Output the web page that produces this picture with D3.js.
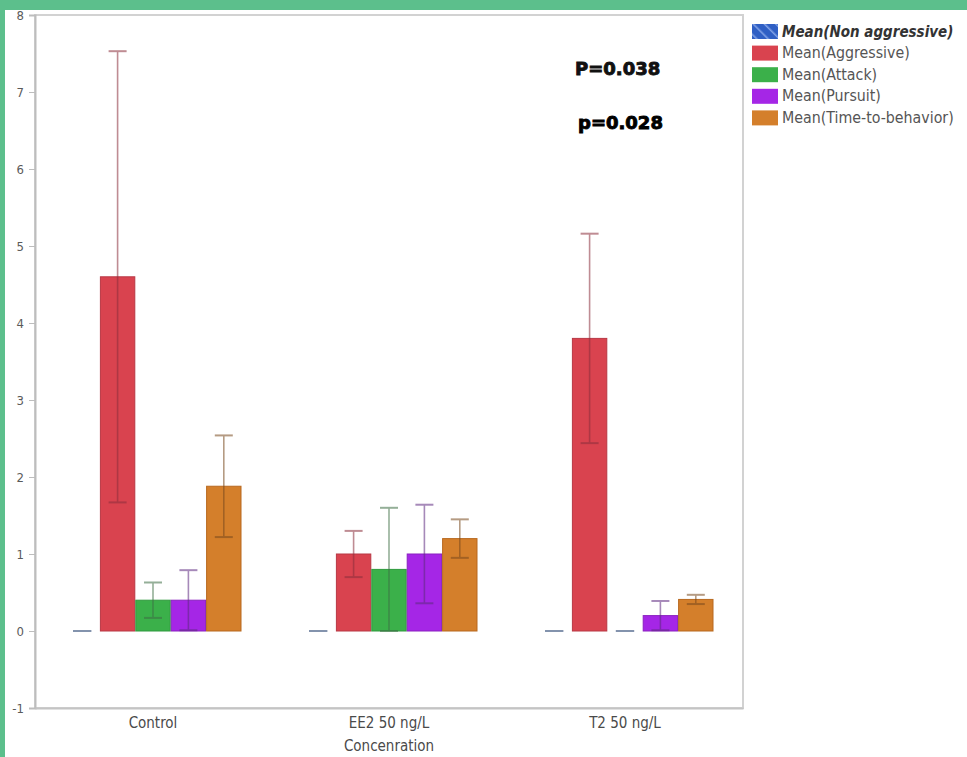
<!DOCTYPE html>
<html>
<head>
<meta charset="utf-8">
<script src="https://cdn.jsdelivr.net/npm/d3@7"></script>
<style>
  html, body { margin: 0; padding: 0; background: #ffffff; }
  svg { display: block; }
</style>
</head>
<body>
<script>
// Categories on the x axis
const categories = ["Control", "EE2 50 ng/L", "T2 50 ng/L"];
// Series names (legend order)
const seriesNames = ["Mean(Non aggressive)", "Mean(Aggressive)", "Mean(Attack)", "Mean(Pursuit)", "Mean(Time-to-behavior)"];
// Mean values per category
const nonAggressive  = [0, 0, 0];
const aggressive     = [4.6, 1.0, 3.8];
const attack         = [0.4, 0.8, 0];
const pursuit        = [0.4, 1.0, 0.2];
const timeToBehavior = [1.88, 1.2, 0.41];
// Error bar half-widths (null = no bar)
const nonAggressiveErr  = [null, null, null];
const aggressiveErr     = [2.93, 0.3, 1.36];
const attackErr         = [0.23, 0.8, null];
const pursuitErr        = [0.39, 0.64, 0.19];
const timeToBehaviorErr = [0.66, 0.25, 0.06];
// Y tick values
const yTicks = [-1, 0, 1, 2, 3, 4, 5, 6, 7, 8];
// Annotations
const pLabels = ["P=0.038", "p=0.028"];
const xTitle = "Concenration";

const seriesValues = [nonAggressive, aggressive, attack, pursuit, timeToBehavior];
const seriesErrors = [nonAggressiveErr, aggressiveErr, attackErr, pursuitErr, timeToBehaviorErr];
const fills   = ["#2f5fc4", "#d9434f", "#3bb04a", "#a526e6", "#d47f2b"];
const strokes = ["#2a4fa0", "#b83844", "#2f9a3e", "#8a20c0", "#b8691f"];
const errCols = ["#555", "#8c2f3c", "#3e6e45", "#5e2a80", "#7a4a1e"];

const W = 967, H = 757;
const plot = { left: 35, right: 743, top: 15, bottom: 708 };
const font = "'DejaVu Sans Condensed', 'DejaVu Sans', sans-serif";

const svg = d3.select("body").append("svg").attr("width", W).attr("height", H);

// Hatch pattern for the first legend swatch
const defs = svg.append("defs");
const pat = defs.append("pattern").attr("id", "hatch").attr("patternUnits", "userSpaceOnUse")
  .attr("width", 8).attr("height", 8).attr("patternTransform", "rotate(-45)");
pat.append("rect").attr("width", 8).attr("height", 8).attr("fill", fills[0]);
pat.append("rect").attr("width", 1.6).attr("height", 8).attr("fill", "#7ea0e6");

const x0 = d3.scaleBand().domain(categories).range([plot.left, plot.right])
  .paddingInner(0.25).paddingOuter(0.125);
const x1 = d3.scaleBand().domain(seriesNames).range([0, x0.bandwidth()]).padding(0);
const y = d3.scaleLinear().domain([-1, 8]).range([plot.bottom, plot.top]);

// Frame
svg.append("rect").attr("x", plot.left).attr("y", plot.top)
  .attr("width", plot.right - plot.left).attr("height", plot.bottom - plot.top)
  .attr("fill", "none").attr("stroke", "#d2d2d2").attr("stroke-width", 2);

// Y axis
const yAxis = svg.append("g").attr("transform", `translate(${plot.left},0)`)
  .call(d3.axisLeft(y).tickValues(yTicks).tickSize(6).tickPadding(5).tickFormat(d => String(d)));
yAxis.select(".domain").attr("stroke", "#bdbdbd").attr("stroke-width", 2);
yAxis.selectAll(".tick line").attr("stroke", "#bdbdbd");
yAxis.selectAll(".tick text").attr("fill", "#5a5a5a").style("font-family", font).style("font-size", "13px");

// X axis labels
const xAxis = svg.append("g").attr("transform", `translate(0,${plot.bottom})`)
  .call(d3.axisBottom(x0).tickSize(0).tickPadding(9));
xAxis.select(".domain").attr("stroke", "#c4c4c4").attr("stroke-width", 2);
xAxis.selectAll(".tick text").attr("fill", "#4a4a4a").style("font-family", font).style("font-size", "15px");

svg.append("text").attr("x", x0("EE2 50 ng/L") + x0.bandwidth() / 2).attr("y", 751)
  .attr("text-anchor", "middle").attr("fill", "#4a4a4a")
  .style("font-family", font).style("font-size", "15px").text(xTitle);

// Bars
const groups = svg.append("g").selectAll("g").data(categories).join("g")
  .attr("transform", d => `translate(${x0(d)},0)`);

seriesNames.forEach((s, si) => {
  categories.forEach((c, ci) => {
    const g = groups.filter(d => d === c);
    const v = seriesValues[si][ci];
    const bx = x1(s), bw = x1.bandwidth();
    if (v === 0) {
      g.append("line").attr("x1", bx + bw * 0.24).attr("x2", bx + bw * 0.76)
        .attr("y1", y(0)).attr("y2", y(0))
        .attr("stroke", "#8393ad").attr("stroke-width", 2);
    } else {
      g.append("rect").attr("x", bx + 0.5).attr("width", bw - 1)
        .attr("y", y(Math.max(0, v))).attr("height", Math.abs(y(v) - y(0)))
        .attr("fill", fills[si]).attr("stroke", strokes[si]).attr("stroke-width", 1);
    }
    const e = seriesErrors[si][ci];
    if (e != null) {
      const cx = bx + bw / 2;
      const lo = v - e, hi = v + e;
      const eg = g.append("g").attr("stroke", errCols[si]).attr("stroke-width", 1.6).attr("opacity", 0.55);
      eg.append("line").attr("x1", cx).attr("x2", cx).attr("y1", y(lo)).attr("y2", y(hi));
      eg.append("line").attr("x1", cx - 9).attr("x2", cx + 9).attr("y1", y(hi)).attr("y2", y(hi)).attr("stroke-width", 2);
      eg.append("line").attr("x1", cx - 9).attr("x2", cx + 9).attr("y1", y(lo)).attr("y2", y(lo)).attr("stroke-width", 2);
    }
  });
});

// P-value annotations
[[575, 75, "#111"], [578, 129, "#000"]].forEach(([px, py, col], i) => {
  svg.append("text").attr("x", px).attr("y", py).text(pLabels[i])
    .attr("fill", col).attr("stroke", col).attr("stroke-width", 0.9)
    .style("font-family", "'DejaVu Sans', sans-serif")
    .style("font-weight", "bold").style("font-size", "18px");
});

// Legend
const legend = svg.append("g").attr("transform", "translate(752,24)");
seriesNames.forEach((s, i) => {
  const row = legend.append("g").attr("transform", `translate(0,${i * 21.6})`);
  row.append("rect").attr("width", 26).attr("height", 15)
    .attr("fill", i === 0 ? "url(#hatch)" : fills[i]);
  row.append("text").attr("x", 30).attr("y", 12.5).text(s)
    .attr("fill", i === 0 ? "#333" : "#555")
    .style("font-family", font).style("font-size", i === 0 ? "15px" : "15.8px")
    .style("font-weight", i === 0 ? "bold" : "normal")
    .style("font-style", i === 0 ? "italic" : "normal");
});

// Green border strips
svg.append("rect").attr("x", 0).attr("y", 0).attr("width", W).attr("height", 10).attr("fill", "#5cbf8c");
svg.append("rect").attr("x", 0).attr("y", 0).attr("width", 5).attr("height", H).attr("fill", "#5cbf8c");
</script>
</body>
</html>
